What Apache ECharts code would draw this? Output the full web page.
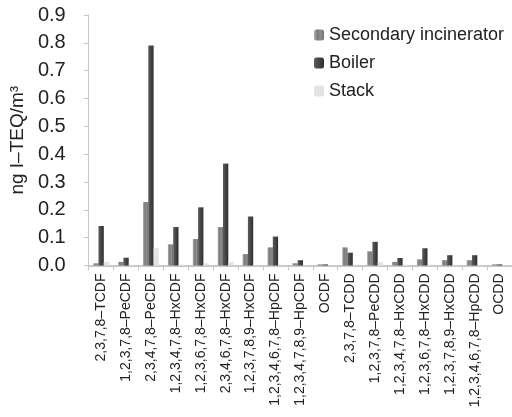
<!DOCTYPE html>
<html><head><meta charset="utf-8">
<script src="https://cdn.jsdelivr.net/npm/echarts@6/dist/echarts.min.js"></script>
<style>html,body{margin:0;padding:0;background:#fff}#c{width:512px;height:417px}</style>
</head><body><div id="c"></div>
<script>
const categories = ['2,3,7,8–TCDF','1,2,3,7,8–PeCDF','2,3,4,7,8–PeCDF','1,2,3,4,7,8–HxCDF','1,2,3,6,7,8–HxCDF','2,3,4,6,7,8–HxCDF','1,2,3,7,8,9–HxCDF','1,2,3,4,6,7,8–HpCDF','1,2,3,4,7,8,9–HpCDF','OCDF','2,3,7,8–TCDD','1,2,3,7,8–PeCDD','1,2,3,4,7,8–HxCDD','1,2,3,6,7,8–HxCDD','1,2,3,7,8,9–HxCDD','1,2,3,4,6,7,8–HpCDD','OCDD'];
const secondary = [0.008,0.013,0.228,0.076,0.095,0.138,0.041,0.065,0.008,0.004,0.065,0.051,0.013,0.022,0.019,0.019,0.004];
const boiler    = [0.142,0.028,0.790,0.138,0.209,0.366,0.176,0.104,0.019,0.004,0.046,0.085,0.027,0.062,0.037,0.037,0.004];
const stack     = [0.013,0.003,0.062,0.003,0.008,0.013,0.002,0.003,0.002,0.001,0.003,0.012,0.003,0.003,0.003,0.002,0.001];
const yTicks = [0,0.1,0.2,0.3,0.4,0.5,0.6,0.7,0.8,0.9];
const seriesNames = ['Secondary incinerator','Boiler','Stack'];

const font = 'Liberation Sans, Arial, sans-serif';
const secColor = {type:'linear',x:0,y:0,x2:1,y2:0,colorStops:[{offset:0,color:'#b0b0b0'},{offset:0.35,color:'#7a7a7a'},{offset:0.7,color:'#8e8e8e'},{offset:1,color:'#6a6a6a'}]};
const boilColor = {type:'linear',x:0,y:0,x2:1,y2:0,colorStops:[{offset:0,color:'#5a5a5a'},{offset:0.5,color:'#454545'},{offset:1,color:'#2e2e2e'}]};
const stackColor = '#e3e3e3';

const chart = echarts.init(document.getElementById('c'), null, {renderer:'canvas'});
chart.setOption({
  animation:false,
  textStyle:{fontFamily:font},
  grid:{left:87,right:0,top:15,bottom:151.5,containLabel:false},
  legend:{
    orient:'vertical', left:309, top:21, itemWidth:10, itemHeight:11, itemGap:10,
    textStyle:{fontSize:18,color:'#222',fontFamily:font},
    data:seriesNames
  },
  xAxis:{
    type:'category', data:categories,
    axisLine:{lineStyle:{color:'#c8c8c8',width:2}},
    axisTick:{show:true,length:5,lineStyle:{color:'#c8c8c8'}},
    axisLabel:{rotate:90,fontSize:14,color:'#222',margin:8,interval:0,fontFamily:font}
  },
  yAxis:{
    type:'value', min:0, max:0.9, interval:0.1,
    name:'ng I–TEQ/m³', nameLocation:'middle', nameGap:59,
    nameTextStyle:{fontSize:19,color:'#222',fontFamily:font},
    splitLine:{show:false},
    axisLine:{show:true,lineStyle:{color:'#c8c8c8'}},
    axisTick:{show:true,length:5,lineStyle:{color:'#c8c8c8'}},
    axisLabel:{fontSize:20,color:'#222',margin:23,fontFamily:font,
      formatter:v=>{const t=yTicks.find(x=>Math.abs(x-v)<1e-9);return (t!==undefined?t:v).toFixed(1);}}
  },
  series:[
    {name:seriesNames[0],type:'bar',data:secondary,barWidth:5.3,barGap:'0%',itemStyle:{color:secColor}},
    {name:seriesNames[1],type:'bar',data:boiler,barWidth:5.3,barGap:'0%',itemStyle:{color:boilColor}},
    {name:seriesNames[2],type:'bar',data:stack,barWidth:5.3,barGap:'0%',itemStyle:{color:stackColor}}
  ]
});
</script></body></html>
